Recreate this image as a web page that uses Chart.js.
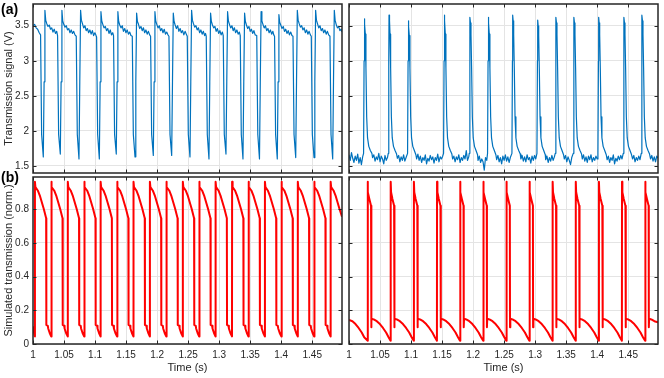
<!DOCTYPE html>
<html><head><meta charset="utf-8">
<script src="https://cdn.jsdelivr.net/npm/chart.js@4.4.1/dist/chart.umd.min.js"></script>
<style>
html,body{margin:0;padding:0;background:#fff;}
#wrap{position:relative;width:664px;height:378px;overflow:hidden;background:#fff;}
#wrap canvas{position:absolute;left:0;top:0;}
</style></head><body>
<div id="wrap">
<canvas id="cA" width="664" height="378"></canvas>
<canvas id="cB" width="664" height="378"></canvas>
<canvas id="cC" width="664" height="378"></canvas>
<canvas id="cD" width="664" height="378"></canvas>
</div>
<script>
// ---- tick values and labels ----
const timeTicks = [1, 1.05, 1.1, 1.15, 1.2, 1.25, 1.3, 1.35, 1.4, 1.45];
const timeTickLabels = ['1','1.05','1.1','1.15','1.2','1.25','1.3','1.35','1.4','1.45'];
const voltTicks = [1.5, 2, 2.5, 3, 3.5];
const voltTickLabels = ['1.5','2','2.5','3','3.5'];
const normTicks = [0, 0.2, 0.4, 0.6, 0.8];
const normTickLabels = ['0','0.2','0.4','0.6','0.8'];

// ---- (a) measured transmission signal, left window [time s, volts] ----
const measuredLeft = [
[1.0000,3.50],[1.0025,3.52],[1.0050,3.47],[1.0075,3.45],[1.0100,3.40],
[1.0122,3.37],[1.0139,1.95],[1.0166,1.63],[1.0179,2.70],[1.0192,3.72],[1.0205,3.58],[1.0222,3.53],[1.0242,3.49],[1.0262,3.51],[1.0282,3.45],[1.0302,3.47],[1.0322,3.41],[1.0342,3.45],[1.0362,3.39],[1.0382,3.42],
[1.0396,3.36],[1.0413,1.95],[1.0440,1.67],[1.0453,2.70],[1.0466,3.72],[1.0479,3.57],[1.0496,3.52],[1.0516,3.48],[1.0536,3.50],[1.0556,3.44],[1.0576,3.46],[1.0596,3.40],[1.0616,3.44],[1.0636,3.39],[1.0656,3.42],[1.0676,3.37],
[1.0697,3.35],[1.0714,1.95],[1.0741,1.60],[1.0754,2.70],[1.0767,3.72],[1.0780,3.58],[1.0797,3.53],[1.0817,3.47],[1.0837,3.50],[1.0857,3.43],[1.0877,3.46],[1.0897,3.40],[1.0917,3.44],[1.0937,3.38],[1.0957,3.43],[1.0977,3.36],[1.0997,3.40],[1.1012,3.37],
[1.1025,3.34],[1.1042,1.95],[1.1069,1.60],[1.1082,2.70],[1.1095,3.70],[1.1108,3.57],[1.1125,3.52],[1.1145,3.47],[1.1165,3.49],[1.1185,3.43],[1.1205,3.46],[1.1225,3.39],[1.1245,3.44],[1.1265,3.37],[1.1285,3.40],
[1.1298,3.36],[1.1315,1.95],[1.1342,1.67],[1.1355,2.70],[1.1368,3.70],[1.1381,3.56],[1.1398,3.51],[1.1418,3.47],[1.1438,3.50],[1.1458,3.42],[1.1478,3.46],[1.1498,3.40],[1.1518,3.44],[1.1538,3.38],[1.1558,3.41],[1.1578,3.36],
[1.1600,3.35],[1.1617,1.95],[1.1644,1.63],[1.1657,2.70],[1.1670,3.68],[1.1683,3.56],[1.1700,3.52],[1.1720,3.46],[1.1740,3.49],[1.1760,3.43],[1.1780,3.47],[1.1800,3.40],[1.1820,3.44],[1.1840,3.38],[1.1860,3.42],[1.1880,3.37],
[1.1895,3.35],[1.1912,1.95],[1.1939,1.65],[1.1952,2.70],[1.1965,3.70],[1.1978,3.57],[1.1995,3.52],[1.2015,3.47],[1.2035,3.50],[1.2055,3.43],[1.2075,3.46],[1.2095,3.40],[1.2115,3.45],[1.2135,3.38],[1.2155,3.41],[1.2175,3.37],
[1.2191,3.35],[1.2208,1.95],[1.2235,1.65],[1.2248,2.70],[1.2261,3.68],[1.2274,3.56],[1.2291,3.51],[1.2311,3.46],[1.2331,3.50],[1.2351,3.42],[1.2371,3.46],[1.2391,3.40],[1.2411,3.43],[1.2431,3.37],[1.2451,3.42],[1.2471,3.38],
[1.2486,3.35],[1.2503,1.95],[1.2530,1.63],[1.2543,2.70],[1.2556,3.72],[1.2569,3.58],[1.2586,3.53],[1.2606,3.48],[1.2626,3.50],[1.2646,3.44],[1.2666,3.47],[1.2686,3.40],[1.2706,3.44],[1.2726,3.38],[1.2746,3.42],[1.2766,3.36],[1.2780,3.39],
[1.2792,3.35],[1.2809,1.95],[1.2836,1.60],[1.2849,2.70],[1.2862,3.68],[1.2875,3.56],[1.2892,3.51],[1.2912,3.47],[1.2932,3.49],[1.2952,3.42],[1.2972,3.46],[1.2992,3.39],[1.3012,3.43],[1.3032,3.37],[1.3052,3.41],
[1.3066,3.36],[1.3083,1.95],[1.3110,1.67],[1.3123,2.70],[1.3136,3.70],[1.3149,3.57],[1.3166,3.52],[1.3186,3.47],[1.3206,3.50],[1.3226,3.43],[1.3246,3.47],[1.3266,3.40],[1.3286,3.44],[1.3306,3.38],[1.3326,3.41],
[1.3340,3.36],[1.3357,1.95],[1.3384,1.60],[1.3397,2.70],[1.3410,3.68],[1.3423,3.56],[1.3440,3.51],[1.3460,3.46],[1.3480,3.49],[1.3500,3.42],[1.3520,3.45],[1.3540,3.39],[1.3560,3.43],[1.3580,3.37],
[1.3606,3.36],[1.3623,1.95],[1.3650,1.60],[1.3663,2.70],[1.3676,3.70],[1.3689,3.57],[1.3706,3.52],[1.3726,3.47],[1.3746,3.50],[1.3766,3.43],[1.3786,3.46],[1.3806,3.40],[1.3826,3.44],[1.3846,3.38],[1.3866,3.42],[1.3880,3.37],
[1.3893,3.35],[1.3910,1.95],[1.3937,1.60],[1.3950,2.70],[1.3963,3.66],[1.3976,3.55],[1.3993,3.51],[1.4013,3.46],[1.4033,3.49],[1.4053,3.42],[1.4073,3.45],[1.4093,3.39],[1.4113,3.43],[1.4133,3.37],[1.4153,3.41],[1.4173,3.36],
[1.4190,3.35],[1.4207,1.95],[1.4234,1.62],[1.4247,2.70],[1.4260,3.72],[1.4273,3.58],[1.4290,3.53],[1.4310,3.48],[1.4330,3.50],[1.4350,3.44],[1.4370,3.47],[1.4390,3.40],[1.4410,3.44],[1.4430,3.38],[1.4450,3.42],[1.4470,3.37],
[1.4485,3.35],[1.4502,1.95],[1.4529,1.62],[1.4542,2.70],[1.4555,3.72],[1.4568,3.58],[1.4585,3.53],[1.4605,3.47],[1.4625,3.50],[1.4645,3.43],[1.4665,3.46],[1.4685,3.40],[1.4705,3.44],[1.4725,3.38],[1.4745,3.42],[1.4765,3.37],
[1.4786,3.35],[1.4803,1.95],[1.4830,1.60],[1.4843,2.70],[1.4856,3.72],[1.4869,3.58],[1.4886,3.52],[1.4906,3.47],[1.4926,3.49],[1.4946,3.43],[1.4966,3.45],[1.4980,3.41]
];

// ---- (a) measured transmission signal, right window ----
const measuredRight = [
[1.000,1.66],[1.002,1.58],[1.004,1.69],[1.006,1.61],[1.008,1.55],[1.010,1.64],[1.012,1.58],[1.014,1.67],[1.016,1.54],[1.018,1.62],[1.020,1.52],[1.022,1.63],
[1.0235,1.68],[1.0243,3.00],[1.0247,3.60],[1.0255,3.52],[1.0263,3.38],[1.0273,2.90],[1.0285,2.20],[1.0299,1.90],[1.0319,1.78],[1.0344,1.72],[1.0369,1.68],
[1.038,1.62],[1.040,1.66],[1.042,1.57],[1.044,1.63],[1.046,1.59],[1.048,1.68],[1.050,1.56],[1.052,1.64],[1.054,1.60],[1.056,1.53],[1.058,1.65],[1.060,1.58],[1.062,1.62],
[1.0633,1.68],[1.0641,3.00],[1.0645,3.65],[1.0653,3.57],[1.0661,3.38],[1.0671,2.90],[1.0683,2.20],[1.0697,1.90],[1.0717,1.78],[1.0742,1.72],[1.0767,1.67],
[1.078,1.61],[1.080,1.65],[1.082,1.56],[1.084,1.63],[1.086,1.58],[1.088,1.66],[1.090,1.57],[1.092,1.62],
[1.0944,1.68],[1.0952,3.00],[1.0956,3.57],[1.0964,3.49],[1.0972,3.36],[1.0982,2.90],[1.0994,2.20],[1.1008,1.90],[1.1028,1.78],[1.1053,1.72],[1.1078,1.66],
[1.109,1.60],[1.111,1.67],[1.113,1.58],[1.115,1.64],[1.117,1.55],[1.119,1.62],[1.121,1.58],[1.123,1.66],[1.125,1.53],[1.127,1.61],[1.129,1.57],[1.131,1.65],[1.133,1.59],[1.135,1.63],[1.137,1.54],[1.139,1.62],[1.141,1.58],[1.143,1.67],[1.145,1.56],[1.147,1.63],[1.149,1.60],[1.151,1.64],
[1.1524,1.68],[1.1532,3.00],[1.1536,3.65],[1.1544,3.57],[1.1552,3.38],[1.1562,2.90],[1.1574,2.20],[1.1588,1.90],[1.1608,1.78],[1.1633,1.72],[1.1658,1.67],
[1.167,1.60],[1.169,1.64],[1.171,1.56],[1.173,1.63],[1.175,1.59],[1.177,1.66],[1.179,1.55],[1.181,1.62],[1.183,1.58],[1.185,1.65],[1.187,1.60],[1.189,1.72],[1.191,1.58],[1.193,1.63],
[1.1938,1.68],[1.1946,3.00],[1.1950,3.62],[1.1958,3.54],[1.1966,3.38],[1.1976,2.90],[1.1988,2.20],[1.2002,1.90],[1.2022,1.78],[1.2047,1.72],[1.2072,1.66],
[1.208,1.58],[1.210,1.64],[1.212,1.55],[1.214,1.60],[1.216,1.56],[1.218,1.44],[1.220,1.62],[1.222,1.58],
[1.2233,1.68],[1.2241,3.00],[1.2245,3.62],[1.2253,3.54],[1.2261,3.38],[1.2271,2.90],[1.2283,2.20],[1.2297,1.90],[1.2317,1.78],[1.2342,1.72],[1.2367,1.66],
[1.238,1.59],[1.240,1.65],[1.242,1.56],[1.244,1.62],[1.246,1.53],[1.248,1.64],[1.250,1.58],[1.252,1.66],[1.254,1.57],[1.256,1.63],[1.258,1.55],[1.260,1.62],
[1.2626,1.68],[1.2634,3.00],[1.2638,3.65],[1.2646,3.57],[1.2654,3.38],[1.2664,2.90],[1.2676,2.20],[1.2690,1.90],[1.2710,1.78],[1.2735,1.72],[1.2760,1.67],
[1.277,1.60],[1.279,1.65],[1.281,1.57],[1.283,1.63],[1.285,1.56],[1.287,1.66],[1.289,1.59],[1.291,1.62],[1.293,1.54],[1.295,1.64],[1.297,1.58],[1.299,1.65],[1.301,1.60],
[1.3029,1.68],[1.3037,3.00],[1.3041,3.58],[1.3049,3.50],[1.3057,3.36],[1.3067,2.90],[1.3079,2.20],[1.3093,1.90],[1.3113,1.78],[1.3138,1.72],[1.3163,1.66],
[1.317,1.59],[1.319,1.64],[1.321,1.55],[1.323,1.62],[1.325,1.57],[1.327,1.65],[1.329,1.58],[1.331,1.63],
[1.3324,1.68],[1.3332,3.00],[1.3336,3.62],[1.3344,3.54],[1.3352,3.38],[1.3362,2.90],[1.3374,2.20],[1.3388,1.90],[1.3408,1.78],[1.3433,1.72],[1.3458,1.66],
[1.347,1.60],[1.349,1.65],[1.351,1.56],[1.353,1.63],[1.355,1.58],[1.357,1.52],[1.359,1.62],
[1.3614,1.68],[1.3622,3.00],[1.3626,3.62],[1.3634,3.54],[1.3642,3.38],[1.3652,2.90],[1.3664,2.20],[1.3678,1.90],[1.3698,1.78],[1.3723,1.72],[1.3748,1.67],
[1.376,1.60],[1.378,1.66],[1.380,1.57],[1.382,1.63],[1.384,1.55],[1.386,1.64],[1.388,1.59],[1.390,1.66],[1.392,1.56],[1.394,1.62],[1.396,1.58],[1.398,1.64],[1.400,1.60],
[1.4012,1.68],[1.4020,3.00],[1.4024,3.62],[1.4032,3.54],[1.4040,3.38],[1.4050,2.90],[1.4062,2.20],[1.4076,1.90],[1.4096,1.78],[1.4121,1.72],[1.4146,1.66],
[1.416,1.59],[1.418,1.64],[1.420,1.55],[1.422,1.62],[1.424,1.58],[1.426,1.66],[1.428,1.53],[1.430,1.61],[1.432,1.57],[1.434,1.64],[1.436,1.59],[1.438,1.65],[1.440,1.60],
[1.4420,1.68],[1.4428,3.00],[1.4432,3.62],[1.4440,3.54],[1.4448,3.38],[1.4458,2.90],[1.4470,2.20],[1.4484,1.90],[1.4504,1.78],[1.4529,1.72],[1.4554,1.66],
[1.457,1.60],[1.459,1.65],[1.461,1.56],[1.463,1.62],[1.465,1.58],[1.467,1.64],[1.469,1.59],
[1.4710,1.68],[1.4718,3.00],[1.4722,3.65],[1.4730,3.57],[1.4738,3.38],[1.4748,2.90],[1.4760,2.20],[1.4774,1.90],[1.4794,1.78],[1.4819,1.72],[1.4844,1.67],
[1.486,1.60],[1.488,1.65],[1.490,1.57],[1.492,1.63],[1.494,1.56],[1.496,1.64],[1.498,1.61]
];

// ---- (b) simulated transmission, left window [time s, normalized] ----
const simulatedLeft = [
[1.0000,0.100],[1.0012,0.075],
[1.0029,0.045],[1.0031,0.962],[1.0039,0.93],[1.0077,0.91],[1.0110,0.88],[1.0142,0.84],[1.0174,0.80],[1.0212,0.745],[1.0215,0.113],[1.0239,0.108],[1.0245,0.092],[1.0269,0.065],
[1.0293,0.045],[1.0295,0.962],[1.0303,0.93],[1.0341,0.91],[1.0374,0.88],[1.0406,0.84],[1.0438,0.80],[1.0476,0.745],[1.0479,0.113],[1.0503,0.108],[1.0509,0.092],[1.0533,0.065],
[1.0559,0.045],[1.0561,0.962],[1.0569,0.93],[1.0607,0.91],[1.0640,0.88],[1.0672,0.84],[1.0704,0.80],[1.0742,0.745],[1.0745,0.113],[1.0769,0.108],[1.0775,0.092],[1.0799,0.065],
[1.0824,0.045],[1.0826,0.962],[1.0834,0.93],[1.0872,0.91],[1.0905,0.88],[1.0937,0.84],[1.0969,0.80],[1.1007,0.745],[1.1010,0.113],[1.1034,0.108],[1.1040,0.092],[1.1064,0.065],
[1.1088,0.045],[1.1090,0.962],[1.1098,0.93],[1.1136,0.91],[1.1169,0.88],[1.1201,0.84],[1.1233,0.80],[1.1271,0.745],[1.1274,0.113],[1.1298,0.108],[1.1304,0.092],[1.1328,0.065],
[1.1354,0.045],[1.1356,0.962],[1.1364,0.93],[1.1402,0.91],[1.1435,0.88],[1.1467,0.84],[1.1499,0.80],[1.1537,0.745],[1.1540,0.113],[1.1564,0.108],[1.1570,0.092],[1.1594,0.065],
[1.1618,0.045],[1.1620,0.962],[1.1628,0.93],[1.1666,0.91],[1.1699,0.88],[1.1731,0.84],[1.1763,0.80],[1.1801,0.745],[1.1804,0.113],[1.1828,0.108],[1.1834,0.092],[1.1858,0.065],
[1.1882,0.045],[1.1884,0.962],[1.1892,0.93],[1.1930,0.91],[1.1963,0.88],[1.1995,0.84],[1.2027,0.80],[1.2065,0.745],[1.2068,0.113],[1.2092,0.108],[1.2098,0.092],[1.2122,0.065],
[1.2147,0.045],[1.2149,0.962],[1.2157,0.93],[1.2195,0.91],[1.2228,0.88],[1.2260,0.84],[1.2292,0.80],[1.2330,0.745],[1.2333,0.113],[1.2357,0.108],[1.2363,0.092],[1.2387,0.065],
[1.2413,0.045],[1.2415,0.962],[1.2423,0.93],[1.2461,0.91],[1.2494,0.88],[1.2526,0.84],[1.2558,0.80],[1.2596,0.745],[1.2599,0.113],[1.2623,0.108],[1.2629,0.092],[1.2653,0.065],
[1.2677,0.045],[1.2679,0.962],[1.2687,0.93],[1.2725,0.91],[1.2758,0.88],[1.2790,0.84],[1.2822,0.80],[1.2860,0.745],[1.2863,0.113],[1.2887,0.108],[1.2893,0.092],[1.2917,0.065],
[1.2941,0.045],[1.2943,0.962],[1.2951,0.93],[1.2989,0.91],[1.3022,0.88],[1.3054,0.84],[1.3086,0.80],[1.3124,0.745],[1.3127,0.113],[1.3151,0.108],[1.3157,0.092],[1.3181,0.065],
[1.3207,0.045],[1.3209,0.962],[1.3217,0.93],[1.3255,0.91],[1.3288,0.88],[1.3320,0.84],[1.3352,0.80],[1.3390,0.745],[1.3393,0.113],[1.3417,0.108],[1.3423,0.092],[1.3447,0.065],
[1.3471,0.045],[1.3473,0.962],[1.3481,0.93],[1.3519,0.91],[1.3552,0.88],[1.3584,0.84],[1.3616,0.80],[1.3654,0.745],[1.3657,0.113],[1.3681,0.108],[1.3687,0.092],[1.3711,0.065],
[1.3736,0.045],[1.3738,0.962],[1.3746,0.93],[1.3784,0.91],[1.3817,0.88],[1.3849,0.84],[1.3881,0.80],[1.3919,0.745],[1.3922,0.113],[1.3946,0.108],[1.3952,0.092],[1.3976,0.065],
[1.4002,0.045],[1.4004,0.962],[1.4012,0.93],[1.4050,0.91],[1.4083,0.88],[1.4115,0.84],[1.4147,0.80],[1.4185,0.745],[1.4188,0.113],[1.4212,0.108],[1.4218,0.092],[1.4242,0.065],
[1.4266,0.045],[1.4268,0.962],[1.4276,0.93],[1.4314,0.91],[1.4347,0.88],[1.4379,0.84],[1.4411,0.80],[1.4449,0.745],[1.4452,0.113],[1.4476,0.108],[1.4482,0.092],[1.4506,0.065],
[1.4530,0.045],[1.4532,0.962],[1.4540,0.93],[1.4578,0.91],[1.4611,0.88],[1.4643,0.84],[1.4675,0.80],[1.4713,0.745],[1.4716,0.113],[1.4740,0.108],[1.4746,0.092],[1.4770,0.065],
[1.4795,0.045],[1.4797,0.962],[1.4805,0.93],[1.4843,0.91],[1.4876,0.88],[1.4908,0.84],[1.4940,0.80],[1.4980,0.755]
];

// ---- (b) simulated transmission, right window ----
const simulatedRight = [
[1.0000,0.142],[1.0055,0.135],[1.0105,0.118],[1.0155,0.095],[1.0205,0.068],[1.0245,0.040],
[1.0298,0.02],[1.0300,0.962],[1.0306,0.90],[1.0328,0.86],[1.0355,0.82],[1.0358,0.10],[1.0363,0.15],[1.0398,0.146],[1.0448,0.135],[1.0498,0.118],[1.0548,0.095],[1.0598,0.068],[1.0638,0.040],
[1.0670,0.02],[1.0672,0.962],[1.0678,0.90],[1.0700,0.86],[1.0727,0.82],[1.0730,0.10],[1.0735,0.15],[1.0770,0.146],[1.0820,0.135],[1.0870,0.118],[1.0920,0.095],[1.0970,0.068],[1.1010,0.040],
[1.1044,0.02],[1.1046,0.962],[1.1052,0.90],[1.1074,0.86],[1.1101,0.82],[1.1104,0.10],[1.1109,0.15],[1.1144,0.146],[1.1194,0.135],[1.1244,0.118],[1.1294,0.095],[1.1344,0.068],[1.1384,0.040],
[1.1417,0.02],[1.1419,0.962],[1.1425,0.90],[1.1447,0.86],[1.1474,0.82],[1.1477,0.10],[1.1482,0.15],[1.1517,0.146],[1.1567,0.135],[1.1617,0.118],[1.1667,0.095],[1.1717,0.068],[1.1757,0.040],
[1.1789,0.02],[1.1791,0.962],[1.1797,0.90],[1.1819,0.86],[1.1846,0.82],[1.1849,0.10],[1.1854,0.15],[1.1889,0.146],[1.1939,0.135],[1.1989,0.118],[1.2039,0.095],[1.2089,0.068],[1.2129,0.040],
[1.2163,0.02],[1.2165,0.962],[1.2171,0.90],[1.2193,0.86],[1.2220,0.82],[1.2223,0.10],[1.2228,0.15],[1.2263,0.146],[1.2313,0.135],[1.2363,0.118],[1.2413,0.095],[1.2463,0.068],[1.2503,0.040],
[1.2535,0.02],[1.2537,0.962],[1.2543,0.90],[1.2565,0.86],[1.2592,0.82],[1.2595,0.10],[1.2600,0.15],[1.2635,0.146],[1.2685,0.135],[1.2735,0.118],[1.2785,0.095],[1.2835,0.068],[1.2875,0.040],
[1.2907,0.02],[1.2909,0.962],[1.2915,0.90],[1.2937,0.86],[1.2964,0.82],[1.2967,0.10],[1.2972,0.15],[1.3007,0.146],[1.3057,0.135],[1.3107,0.118],[1.3157,0.095],[1.3207,0.068],[1.3247,0.040],
[1.3280,0.02],[1.3282,0.962],[1.3288,0.90],[1.3310,0.86],[1.3337,0.82],[1.3340,0.10],[1.3345,0.15],[1.3380,0.146],[1.3430,0.135],[1.3480,0.118],[1.3530,0.095],[1.3580,0.068],[1.3620,0.040],
[1.3653,0.02],[1.3655,0.962],[1.3661,0.90],[1.3683,0.86],[1.3710,0.82],[1.3713,0.10],[1.3718,0.15],[1.3753,0.146],[1.3803,0.135],[1.3853,0.118],[1.3903,0.095],[1.3953,0.068],[1.3993,0.040],
[1.4026,0.02],[1.4028,0.962],[1.4034,0.90],[1.4056,0.86],[1.4083,0.82],[1.4086,0.10],[1.4091,0.15],[1.4126,0.146],[1.4176,0.135],[1.4226,0.118],[1.4276,0.095],[1.4326,0.068],[1.4366,0.040],
[1.4398,0.02],[1.4400,0.962],[1.4406,0.90],[1.4428,0.86],[1.4455,0.82],[1.4458,0.10],[1.4463,0.15],[1.4498,0.146],[1.4548,0.135],[1.4598,0.118],[1.4648,0.095],[1.4698,0.068],[1.4738,0.040],
[1.4772,0.02],[1.4774,0.962],[1.4780,0.90],[1.4802,0.86],[1.4829,0.82],[1.4832,0.10],[1.4837,0.15],[1.4872,0.146],[1.4922,0.135],[1.4980,0.128]
];

// ---- rendering ----
Chart.defaults.font.family = '"Liberation Sans", Arial, Helvetica, sans-serif';
Chart.defaults.color = '#262626';
const GRID = '#e4e4e4';
const INK = '#262626';

const framePlugin = {
  id: 'frame',
  afterDraw(chart, args, opts) {
    const ctx = chart.ctx, a = chart.chartArea;
    const xs = chart.scales.x, ys = chart.scales.y;
    ctx.save();
    ctx.strokeStyle = INK;
    ctx.lineWidth = 1;
    ctx.beginPath();
    const L = 3.5;
    xs.ticks.forEach(t => {
      const p = Math.round(xs.getPixelForValue(t.value)) + 0.5;
      ctx.moveTo(p, a.bottom); ctx.lineTo(p, a.bottom - L);
      ctx.moveTo(p, a.top); ctx.lineTo(p, a.top + L);
    });
    ys.ticks.forEach(t => {
      const p = Math.round(ys.getPixelForValue(t.value)) + 0.5;
      ctx.moveTo(a.left, p); ctx.lineTo(a.left + L, p);
      ctx.moveTo(a.right, p); ctx.lineTo(a.right - L, p);
    });
    ctx.stroke();
    ctx.lineWidth = 1.5;
    ctx.strokeRect(a.left, a.top, a.right - a.left, a.bottom - a.top);
    if (opts && opts.label) {
      ctx.fillStyle = '#000';
      ctx.font = 'bold 14px "Liberation Sans", Arial, sans-serif';
      ctx.textBaseline = 'middle';
      ctx.textAlign = 'left';
      ctx.fillText(opts.label, opts.lx, opts.ly);
    }
    ctx.restore();
  }
};

function makePanel(id, points, color, width, o) {
  return new Chart(document.getElementById(id), {
    type: 'line',
    data: { datasets: [{
      data: points.map(p => ({x: p[0], y: p[1]})),
      borderColor: color, borderWidth: width, pointRadius: 0, tension: 0, fill: false,
      borderJoinStyle: 'round'
    }]},
    options: {
      responsive: false, animation: false, events: [], devicePixelRatio: 1,
      layout: { padding: o.pad },
      plugins: { legend: {display: false}, tooltip: {enabled: false},
                 frame: { label: o.label, lx: 1, ly: o.ly } },
      scales: {
        x: {
          type: 'linear', min: 1, max: 1.498,
          afterBuildTicks: s => { s.ticks = timeTicks.map(v => ({value: v})); },
          ticks: { display: o.xLabels, autoSkip: false, maxRotation: 0, minRotation: 0, padding: 5,
                   color: INK, font: {size: 10}, callback: (v, i) => timeTickLabels[i] },
          grid: { color: GRID, drawTicks: false, lineWidth: 1 },
          border: { display: false },
          title: { display: o.xLabels, text: 'Time (s)', color: INK, font: {size: 11}, padding: {top: 0, bottom: 3} },
          afterFit: s => { s.height = o.xLabels ? 34 : 0; s.paddingLeft = 0; s.paddingRight = 0; s.paddingTop = 0; s.paddingBottom = 0; }
        },
        y: {
          type: 'linear', min: o.ymin, max: o.ymax,
          afterBuildTicks: s => { s.ticks = o.yTicks.map(v => ({value: v})); },
          ticks: { display: o.yLabels, padding: 4, color: INK, font: {size: 10}, callback: (v, i) => o.yTickLabels[i] },
          grid: { color: GRID, drawTicks: false, lineWidth: 1 },
          border: { display: false },
          title: { display: !!o.yTitle, text: o.yTitle || '', color: INK, font: {size: 11}, padding: {top: 2, bottom: 0} },
          afterFit: s => { s.width = o.yLabels ? 33 : 0; s.paddingTop = 0; s.paddingBottom = 0; s.paddingLeft = 0; s.paddingRight = 0; }
        }
      }
    },
    plugins: [framePlugin]
  });
}

const BLUE = '#0072BD', RED = '#FF0000';
makePanel('cA', measuredLeft, BLUE, 1.2, {
  pad: {left: 0, top: 4, right: 322, bottom: 205}, xLabels: false, yLabels: true,
  ymin: 1.4, ymax: 3.81, yTicks: voltTicks, yTickLabels: voltTickLabels,
  yTitle: 'Transmission signal (V)', label: '(a)', ly: 10 });
makePanel('cB', measuredRight, BLUE, 1.2, {
  pad: {left: 349, top: 4, right: 6, bottom: 205}, xLabels: false, yLabels: false,
  ymin: 1.4, ymax: 3.81, yTicks: voltTicks, yTickLabels: voltTickLabels });
makePanel('cC', simulatedLeft, RED, 2, {
  pad: {left: 0, top: 177, right: 322, bottom: 0}, xLabels: true, yLabels: true,
  ymin: 0, ymax: 0.99, yTicks: normTicks, yTickLabels: normTickLabels,
  yTitle: 'Simulated transmission (norm.)', label: '(b)', ly: 178 });
makePanel('cD', simulatedRight, RED, 2, {
  pad: {left: 349, top: 177, right: 6, bottom: 0}, xLabels: true, yLabels: false,
  ymin: 0, ymax: 0.99, yTicks: normTicks, yTickLabels: normTickLabels });
</script>
</body></html>
